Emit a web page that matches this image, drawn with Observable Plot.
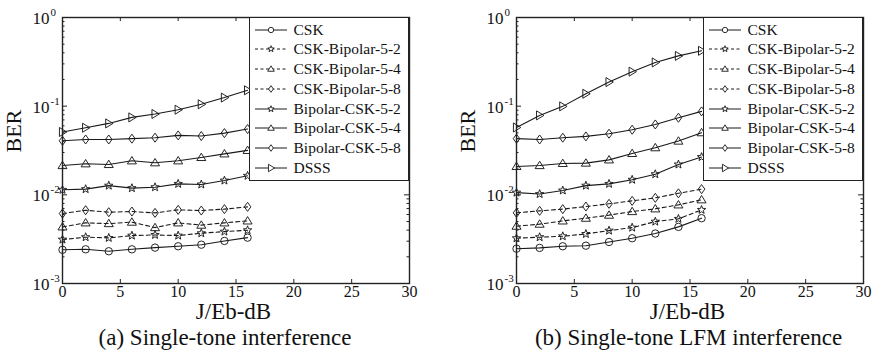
<!DOCTYPE html>
<html><head><meta charset="utf-8">
<script src="https://cdn.jsdelivr.net/npm/d3@7"></script>
<script src="https://cdn.jsdelivr.net/npm/@observablehq/plot@0.6"></script>
<style>
body{margin:0;background:#fff;}
#wrap{position:relative;width:876px;height:363px;overflow:hidden;font-family:"Liberation Serif","Times New Roman",serif;background:#fff;}
.panel{position:absolute;top:0;width:438px;height:363px;}
.panel svg.plot{position:absolute;left:0;top:0;}
.legend{position:absolute;background:#fff;border:1.5px solid #222;box-sizing:border-box;}
.row{position:absolute;left:0;height:20px;width:100%;}
.row svg{position:absolute;left:-1.5px;top:0;}
.row span{position:absolute;left:43.5px;top:0;line-height:20px;font-size:15.5px;color:#111;white-space:nowrap;}
</style></head>
<body><div id="wrap"></div>
<script>
// ---- data ----
const jeb = [0, 2, 4, 6, 8, 10, 12, 14, 16];
const seriesNames = ["CSK", "CSK-Bipolar-5-2", "CSK-Bipolar-5-4", "CSK-Bipolar-5-8",
                     "Bipolar-CSK-5-2", "Bipolar-CSK-5-4", "Bipolar-CSK-5-8", "DSSS"];
const seriesMarkers = ["circle", "star", "triangle", "diamond", "star", "triangle", "diamond", "triangleRight"];
const seriesDashed = [false, true, true, true, false, false, false, false];
const xTicks = [0, 5, 10, 15, 20, 25, 30];
const yMajor = [1e-3, 1e-2, 1e-1, 1];
const yMinorMantissa = [2, 3, 4, 5, 6, 7, 8, 9];
const panelCaptions = ["(a) Single-tone interference", "(b) Single-tone LFM interference"];
const xLabel = "J/Eb-dB";
const yLabel = "BER";

// (a) Single-tone interference
const berA_CSK  = [2.40e-3, 2.43e-3, 2.31e-3, 2.43e-3, 2.54e-3, 2.63e-3, 2.74e-3, 3.02e-3, 3.29e-3];
const berA_CB52 = [3.13e-3, 3.33e-3, 3.27e-3, 3.47e-3, 3.53e-3, 3.47e-3, 3.69e-3, 3.85e-3, 3.99e-3];
const berA_CB54 = [4.35e-3, 4.83e-3, 4.74e-3, 4.92e-3, 4.27e-3, 4.83e-3, 4.55e-3, 4.83e-3, 5.08e-3];
const berA_CB58 = [6.15e-3, 6.71e-3, 6.37e-3, 6.48e-3, 6.26e-3, 6.77e-3, 6.65e-3, 6.90e-3, 7.32e-3];
const berA_BC52 = [1.14e-2, 1.16e-2, 1.27e-2, 1.19e-2, 1.22e-2, 1.33e-2, 1.31e-2, 1.45e-2, 1.64e-2];
const berA_BC54 = [2.14e-2, 2.24e-2, 2.20e-2, 2.42e-2, 2.30e-2, 2.42e-2, 2.64e-2, 2.90e-2, 3.17e-2];
const berA_BC58 = [4.07e-2, 4.21e-2, 4.21e-2, 4.30e-2, 4.41e-2, 4.68e-2, 4.60e-2, 4.97e-2, 5.52e-2];
const berA_DSSS = [5.11e-2, 5.71e-2, 6.39e-2, 7.47e-2, 8.16e-2, 9.12e-2, 0.105, 0.125, 0.151];

// (b) Single-tone LFM interference
const berB_CSK  = [2.47e-3, 2.52e-3, 2.63e-3, 2.67e-3, 2.94e-3, 3.24e-3, 3.66e-3, 4.35e-3, 5.45e-3];
const berB_CB52 = [3.24e-3, 3.33e-3, 3.41e-3, 3.62e-3, 3.95e-3, 4.27e-3, 4.99e-3, 5.36e-3, 6.77e-3];
const berB_CB54 = [4.43e-3, 4.67e-3, 5.08e-3, 5.45e-3, 5.90e-3, 6.48e-3, 6.95e-3, 7.71e-3, 8.79e-3];
const berB_CB58 = [6.26e-3, 6.60e-3, 6.90e-3, 7.38e-3, 7.92e-3, 8.55e-3, 9.25e-3, 1.04e-2, 1.16e-2];
const berB_BC52 = [1.06e-2, 1.02e-2, 1.12e-2, 1.27e-2, 1.33e-2, 1.48e-2, 1.71e-2, 2.20e-2, 2.67e-2];
const berB_BC54 = [2.09e-2, 2.14e-2, 2.26e-2, 2.28e-2, 2.48e-2, 2.93e-2, 3.40e-2, 4.04e-2, 5.02e-2];
const berB_BC58 = [4.30e-2, 4.21e-2, 4.41e-2, 4.56e-2, 4.89e-2, 5.42e-2, 6.22e-2, 7.41e-2, 8.73e-2];
const berB_DSSS = [5.75e-2, 7.87e-2, 9.95e-2, 0.138, 0.187, 0.245, 0.311, 0.369, 0.421];

const panelA = [berA_CSK, berA_CB52, berA_CB54, berA_CB58, berA_BC52, berA_BC54, berA_BC58, berA_DSSS];
const panelB = [berB_CSK, berB_CB52, berB_CB54, berB_CB58, berB_BC52, berB_BC54, berB_BC58, berB_DSSS];

// ---- marker shapes ----
function mk(fn) { return {draw(c, size) { fn(c, Math.sqrt(size / Math.PI)); }}; }
const symbols = {
  circle: mk((c, r) => { c.moveTo(r, 0); c.arc(0, 0, r, 0, 2 * Math.PI); c.closePath(); }),
  star: mk((c, r) => {
    for (let i = 0; i < 10; i++) {
      const a = -Math.PI / 2 + i * Math.PI / 5, rr = i % 2 ? r * 0.42 : r;
      const x = rr * Math.cos(a), y = rr * Math.sin(a);
      i ? c.lineTo(x, y) : c.moveTo(x, y);
    }
    c.closePath();
  }),
  triangle: mk((c, r) => { c.moveTo(0, -r * 1.05); c.lineTo(r * 1.1, r * 0.75); c.lineTo(-r * 1.1, r * 0.75); c.closePath(); }),
  diamond: mk((c, r) => { c.moveTo(0, -r * 1.1); c.lineTo(r * 0.8, 0); c.lineTo(0, r * 1.1); c.lineTo(-r * 0.8, 0); c.closePath(); }),
  triangleRight: mk((c, r) => { c.moveTo(r * 1.05, 0); c.lineTo(-r * 0.75, -r * 1.1); c.lineTo(-r * 0.75, r * 1.1); c.closePath(); })
};
const plotR = {circle: 3.7, star: 4.4, triangle: 4.1, diamond: 4.1, triangleRight: 4.1};
const legendR = {circle: 2.7, star: 3.3, triangle: 3, diamond: 3, triangleRight: 3.4};
const INK = "#1a1a1a";

function panel(series, ml, mr, caption, capDx, leftPx) {
  const W = 438, H = 363, mt = 17, mb = 80;
  const FW = W - ml - mr, FH = H - mt - mb;
  const yMinor = [];
  for (let k = -3; k < 0; k++) for (const m of yMinorMantissa) yMinor.push(m * Math.pow(10, k));
  const marks = [];
  series.forEach((vals, i) => {
    const data = jeb.map((x, j) => ({x, y: vals[j]}));
    marks.push(Plot.line(data, {x: "x", y: "y", stroke: INK, strokeWidth: 1.1,
      strokeDasharray: seriesDashed[i] ? "4,3" : null}));
    marks.push(Plot.dot(data, {x: "x", y: "y", symbol: symbols[seriesMarkers[i]], r: plotR[seriesMarkers[i]],
      stroke: INK, strokeWidth: 0.95, fill: "none"}));
  });
  // inward ticks
  marks.push(Plot.tickX(xTicks, {x: d => d, insetTop: FH - 4, stroke: "#222"}));
  marks.push(Plot.tickX(xTicks, {x: d => d, insetBottom: FH - 4, stroke: "#222"}));
  marks.push(Plot.tickY(yMajor, {y: d => d, insetRight: FW - 5, stroke: "#222"}));
  marks.push(Plot.tickY(yMajor, {y: d => d, insetLeft: FW - 5, stroke: "#222"}));
  marks.push(Plot.tickY(yMinor, {y: d => d, insetRight: FW - 2.5, stroke: "#222"}));
  marks.push(Plot.tickY(yMinor, {y: d => d, insetLeft: FW - 2.5, stroke: "#222"}));
  marks.push(Plot.frame({stroke: "#222", strokeWidth: 1.4}));
  // tick labels
  marks.push(Plot.text(xTicks, {x: d => d, frameAnchor: "bottom", dy: 13, text: d => String(d), fontSize: 16}));
  marks.push(Plot.text(yMajor, {y: d => d, frameAnchor: "left", dx: -13, dy: 1, text: () => "10", textAnchor: "end", fontSize: 17}));
  marks.push(Plot.text(yMajor, {y: d => d, frameAnchor: "left", dx: -12, dy: -5,
    text: d => String(Math.round(Math.log10(d))), textAnchor: "start", fontSize: 11}));
  // axis labels + caption
  marks.push(Plot.text([xLabel], {frameAnchor: "bottom", dy: 35, dx: -2.5, text: d => d, fontSize: 23}));
  marks.push(Plot.text([yLabel], {frameAnchor: "left", dx: -49, dy: 2, rotate: -90, text: d => d, fontSize: 22}));
  marks.push(Plot.text([caption], {frameAnchor: "bottom", dy: 61, dx: capDx, text: d => d, fontSize: 23}));

  const svg = Plot.plot({
    width: W, height: H, marginTop: mt, marginBottom: mb, marginLeft: ml, marginRight: mr,
    x: {domain: [0, 30], axis: null},
    y: {type: "log", domain: [1e-3, 1], axis: null},
    style: {fontFamily: '"Liberation Serif", "Times New Roman", serif', background: "white", color: "#111"},
    marks
  });
  svg.classList.add("plot");

  const div = document.createElement("div");
  div.className = "panel";
  div.style.left = leftPx + "px";
  div.appendChild(svg);

  // legend (HTML box, symbols drawn with the same marker shapes)
  const lg = document.createElement("div");
  lg.className = "legend";
  lg.style.left = (ml + FW - 160) + "px";
  lg.style.top = mt + "px";
  lg.style.width = "160px";
  lg.style.height = "164px";
  seriesNames.forEach((name, i) => {
    const row = document.createElement("div");
    row.className = "row";
    row.style.top = (13 + i * 19.75 - 10 - 1.5) + "px";
    const s = d3.create("svg").attr("width", 44).attr("height", 20);
    s.append("line").attr("x1", 6).attr("x2", 38).attr("y1", 10).attr("y2", 10)
      .attr("stroke", INK).attr("stroke-width", 1)
      .attr("stroke-dasharray", seriesDashed[i] ? "3,2.5" : null);
    const m = seriesMarkers[i];
    s.append("path").attr("transform", "translate(22,10)")
      .attr("d", d3.symbol().type(symbols[m]).size(Math.PI * legendR[m] * legendR[m])())
      .attr("fill", "white").attr("stroke", INK).attr("stroke-width", 0.9);
    row.appendChild(s.node());
    const sp = document.createElement("span");
    sp.textContent = name;
    row.appendChild(sp);
    lg.appendChild(row);
  });
  div.appendChild(lg);
  return div;
}

const wrap = document.getElementById("wrap");
wrap.appendChild(panel(panelA, 62, 29, panelCaptions[0], -11, 0));
wrap.appendChild(panel(panelB, 78, 13, panelCaptions[1], -1.5, 438));
</script>
</body></html>
